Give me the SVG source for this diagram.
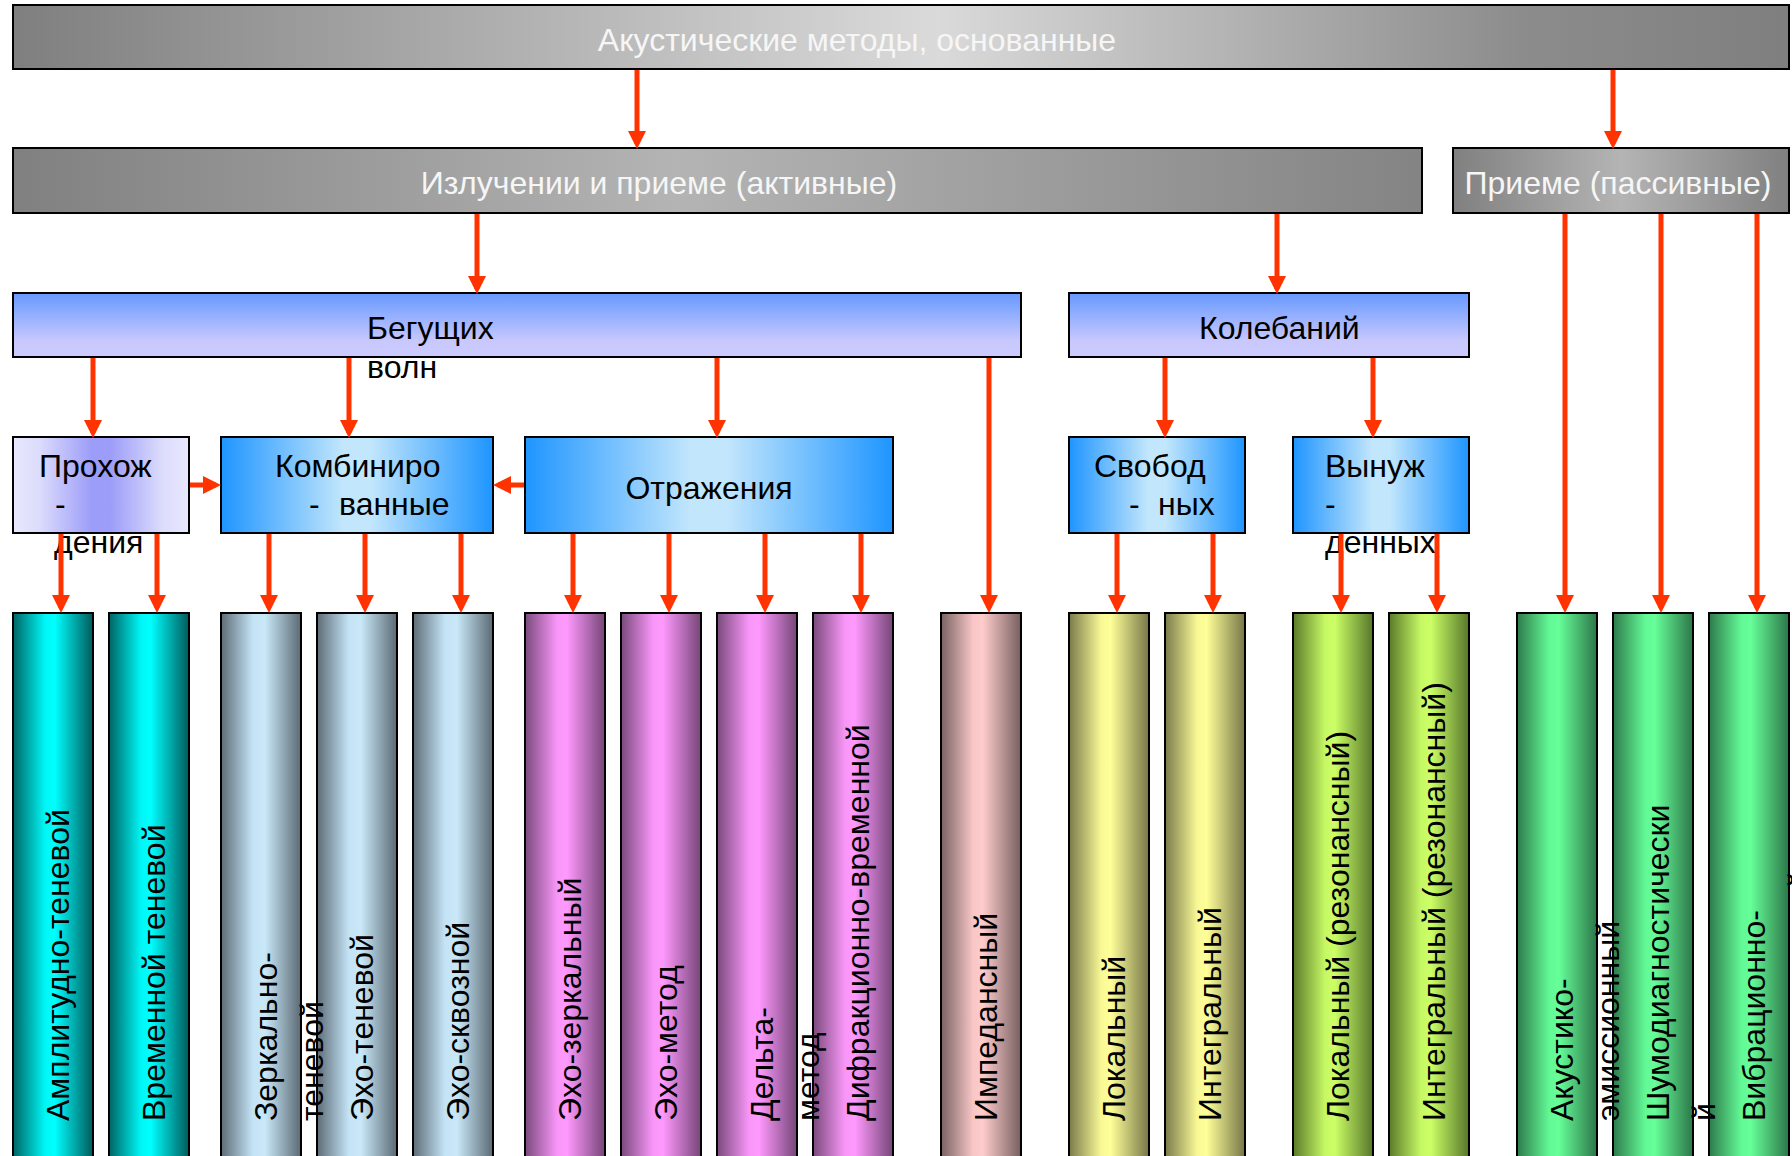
<svg xmlns="http://www.w3.org/2000/svg" width="1792" height="1156" viewBox="0 0 1792 1156">
<style>
text{font-family:"Liberation Sans",Arial,sans-serif;font-size:32px;fill:#000}
.wt{fill:#f6f6f6}
.box{stroke:#000;stroke-width:2}
.col{stroke:#000;stroke-width:2}
.cn line{stroke:#ff3300;stroke-width:5;marker-end:url(#ah)}
</style>
<defs>
<marker id="ah" markerUnits="userSpaceOnUse" markerWidth="18" markerHeight="18" refX="13" refY="9" orient="auto"><path d="M0,0 L18,9 L0,18 z" fill="#ff3300"/></marker>
<linearGradient id="gTop"><stop offset="0" stop-color="#7f7f7f"/><stop offset="0.52" stop-color="#dadada"/><stop offset="0.85" stop-color="#8c8c8c"/><stop offset="1" stop-color="#7f7f7f"/></linearGradient>
<linearGradient id="gIzl"><stop offset="0" stop-color="#808080"/><stop offset="0.47" stop-color="#b4b4b4"/><stop offset="1" stop-color="#848484"/></linearGradient>
<linearGradient id="gPri"><stop offset="0" stop-color="#808080"/><stop offset="0.5" stop-color="#b4b4b4"/><stop offset="1" stop-color="#808080"/></linearGradient>
<linearGradient id="gLav" x1="0" y1="0" x2="0" y2="1"><stop offset="0" stop-color="#6699ff"/><stop offset="0.75" stop-color="#c8c8fd"/><stop offset="1" stop-color="#cccbff"/></linearGradient>
<linearGradient id="gProh"><stop offset="0" stop-color="#e8e8fe"/><stop offset="0.15" stop-color="#dcdcfc"/><stop offset="0.45" stop-color="#9c9cf9"/><stop offset="0.55" stop-color="#9c9cf9"/><stop offset="0.85" stop-color="#dcdcfc"/><stop offset="1" stop-color="#e8e8fe"/></linearGradient>
<linearGradient id="gBlue"><stop offset="0" stop-color="#1e95ff"/><stop offset="0.45" stop-color="#c2e6fc"/><stop offset="0.55" stop-color="#c2e6fc"/><stop offset="1" stop-color="#1e95ff"/></linearGradient>
<linearGradient id="cTeal"><stop offset="0" stop-color="#006464"/><stop offset="0.4" stop-color="#00f6f6"/><stop offset="0.52" stop-color="#00ffff"/><stop offset="1" stop-color="#005a5a"/></linearGradient>
<linearGradient id="cGrey"><stop offset="0" stop-color="#5e6c76"/><stop offset="0.4" stop-color="#c4e4f6"/><stop offset="0.55" stop-color="#c8e8f8"/><stop offset="1" stop-color="#5c6a74"/></linearGradient>
<linearGradient id="cMag"><stop offset="0" stop-color="#7a4a7c"/><stop offset="0.4" stop-color="#f896f8"/><stop offset="0.52" stop-color="#ff99ff"/><stop offset="1" stop-color="#764676"/></linearGradient>
<linearGradient id="cPink"><stop offset="0" stop-color="#7a6262"/><stop offset="0.4" stop-color="#f8c6c6"/><stop offset="0.52" stop-color="#ffcccc"/><stop offset="1" stop-color="#766060"/></linearGradient>
<linearGradient id="cYel"><stop offset="0" stop-color="#7a7a4a"/><stop offset="0.4" stop-color="#f8f896"/><stop offset="0.52" stop-color="#ffff99"/><stop offset="1" stop-color="#767648"/></linearGradient>
<linearGradient id="cLime"><stop offset="0" stop-color="#5a7a2a"/><stop offset="0.4" stop-color="#c6f864"/><stop offset="0.52" stop-color="#ccff66"/><stop offset="1" stop-color="#56762a"/></linearGradient>
<linearGradient id="cGrn"><stop offset="0" stop-color="#2e7a4a"/><stop offset="0.4" stop-color="#62f896"/><stop offset="0.52" stop-color="#66ff99"/><stop offset="1" stop-color="#2c7648"/></linearGradient>
</defs>
<rect width="1792" height="1156" fill="#fff"/>

<g id="n-top"><rect class="box" x="13" y="5" width="1776" height="64" fill="url(#gTop)"/><text class="wt" x="857" y="51" text-anchor="middle">Акустические методы, основанные</text></g>
<g id="n-izl"><rect class="box" x="13" y="148" width="1409" height="65" fill="url(#gIzl)"/><text class="wt" x="659" y="193.5" text-anchor="middle">Излучении и приеме (активные)</text></g>
<g id="n-pri"><rect class="box" x="1453" y="148" width="336" height="65" fill="url(#gPri)"/><text class="wt" x="1618" y="193.5" text-anchor="middle">Приеме (пассивные)</text></g>
<g id="n-beg"><rect class="box" x="13" y="293" width="1008" height="64" fill="url(#gLav)"/><text x="367" y="339">Бегущих</text><text x="367" y="378">волн</text></g>
<g id="n-kol"><rect class="box" x="1069" y="293" width="400" height="64" fill="url(#gLav)"/><text x="1199" y="339">Колебаний</text></g>
<g id="n-proh"><rect class="box" x="13" y="437" width="176" height="96" fill="url(#gProh)"/><text x="39" y="476.5">Прохож</text><text x="55" y="514.5">-</text><text x="54" y="552.5">дения</text></g>
<g id="n-komb"><rect class="box" x="221" y="437" width="272" height="96" fill="url(#gBlue)"/><text x="275" y="476.5">Комбиниро</text><text x="309" y="514.5">-</text><text x="339" y="514.5">ванные</text></g>
<g id="n-otr"><rect class="box" x="525" y="437" width="368" height="96" fill="url(#gBlue)"/><text x="709" y="499" text-anchor="middle">Отражения</text></g>
<g id="n-svob"><rect class="box" x="1069" y="437" width="176" height="96" fill="url(#gBlue)"/><text x="1094" y="476.5">Свобод</text><text x="1129" y="514.5">-</text><text x="1158" y="514.5">ных</text></g>
<g id="n-vyn"><rect class="box" x="1293" y="437" width="176" height="96" fill="url(#gBlue)"/><text x="1325" y="476.5">Вынуж</text><text x="1325" y="514.5">-</text><text x="1325" y="552.5">денных</text></g>

<g id="n-c17"><rect class="col" x="1709" y="613" width="80" height="560" fill="url(#cGrn)"/><text transform="translate(1765,1121) rotate(-90)">Вибрационно-</text><text transform="translate(1811,1121) rotate(-90)">диагностический</text></g>
<g id="n-c16"><rect class="col" x="1613" y="613" width="80" height="560" fill="url(#cGrn)"/><text transform="translate(1669,1121) rotate(-90)">Шумодиагностически</text><text transform="translate(1715,1121) rotate(-90)">й</text></g>
<g id="n-c15"><rect class="col" x="1517" y="613" width="80" height="560" fill="url(#cGrn)"/><text transform="translate(1573,1121) rotate(-90)">Акустико-</text><text transform="translate(1619,1121) rotate(-90)">эмиссионный</text></g>
<g id="n-c14"><rect class="col" x="1389" y="613" width="80" height="560" fill="url(#cLime)"/><text transform="translate(1445,1121) rotate(-90)">Интегральный (резонансный)</text></g>
<g id="n-c13"><rect class="col" x="1293" y="613" width="80" height="560" fill="url(#cLime)"/><text transform="translate(1349,1121) rotate(-90)">Локальный (резонансный)</text></g>
<g id="n-c12"><rect class="col" x="1165" y="613" width="80" height="560" fill="url(#cYel)"/><text transform="translate(1221,1121) rotate(-90)">Интегральный</text></g>
<g id="n-c11"><rect class="col" x="1069" y="613" width="80" height="560" fill="url(#cYel)"/><text transform="translate(1125,1121) rotate(-90)">Локальный</text></g>
<g id="n-c10"><rect class="col" x="941" y="613" width="80" height="560" fill="url(#cPink)"/><text transform="translate(997,1121) rotate(-90)">Импедансный</text></g>
<g id="n-c9"><rect class="col" x="813" y="613" width="80" height="560" fill="url(#cMag)"/><text transform="translate(869,1121) rotate(-90)">Дифракционно-временной</text></g>
<g id="n-c8"><rect class="col" x="717" y="613" width="80" height="560" fill="url(#cMag)"/><text transform="translate(773,1121) rotate(-90)">Дельта-</text><text transform="translate(819,1121) rotate(-90)">метод</text></g>
<g id="n-c7"><rect class="col" x="621" y="613" width="80" height="560" fill="url(#cMag)"/><text transform="translate(677,1121) rotate(-90)">Эхо-метод</text></g>
<g id="n-c6"><rect class="col" x="525" y="613" width="80" height="560" fill="url(#cMag)"/><text transform="translate(581,1121) rotate(-90)">Эхо-зеркальный</text></g>
<g id="n-c5"><rect class="col" x="413" y="613" width="80" height="560" fill="url(#cGrey)"/><text transform="translate(469,1121) rotate(-90)">Эхо-сквозной</text></g>
<g id="n-c4"><rect class="col" x="317" y="613" width="80" height="560" fill="url(#cGrey)"/><text transform="translate(373,1121) rotate(-90)">Эхо-теневой</text></g>
<g id="n-c3"><rect class="col" x="221" y="613" width="80" height="560" fill="url(#cGrey)"/><text transform="translate(277,1121) rotate(-90)">Зеркально-</text><text transform="translate(323,1121) rotate(-90)">теневой</text></g>
<g id="n-c2"><rect class="col" x="109" y="613" width="80" height="560" fill="url(#cTeal)"/><text transform="translate(165,1121) rotate(-90)">Временной теневой</text></g>
<g id="n-c1"><rect class="col" x="13" y="613" width="80" height="560" fill="url(#cTeal)"/><text transform="translate(69,1121) rotate(-90)">Амплитудно-теневой</text></g>

<g id="connectors" class="cn">
<line x1="637" y1="70" x2="637" y2="144"/>
<line x1="1613" y1="70" x2="1613" y2="144"/>
<line x1="477" y1="214" x2="477" y2="289"/>
<line x1="1277" y1="214" x2="1277" y2="289"/>
<line x1="1565" y1="214" x2="1565" y2="608"/>
<line x1="1661" y1="214" x2="1661" y2="608"/>
<line x1="1757" y1="214" x2="1757" y2="608"/>
<line x1="93" y1="358" x2="93" y2="433"/>
<line x1="349" y1="358" x2="349" y2="433"/>
<line x1="717" y1="358" x2="717" y2="433"/>
<line x1="989" y1="358" x2="989" y2="608"/>
<line x1="1165" y1="358" x2="1165" y2="433"/>
<line x1="1373" y1="358" x2="1373" y2="433"/>
<line x1="190" y1="485" x2="216" y2="485"/>
<line x1="524" y1="485" x2="498" y2="485"/>
<line x1="61" y1="534" x2="61" y2="608"/>
<line x1="157" y1="534" x2="157" y2="608"/>
<line x1="269" y1="534" x2="269" y2="608"/>
<line x1="365" y1="534" x2="365" y2="608"/>
<line x1="461" y1="534" x2="461" y2="608"/>
<line x1="573" y1="534" x2="573" y2="608"/>
<line x1="669" y1="534" x2="669" y2="608"/>
<line x1="765" y1="534" x2="765" y2="608"/>
<line x1="861" y1="534" x2="861" y2="608"/>
<line x1="1117" y1="534" x2="1117" y2="608"/>
<line x1="1213" y1="534" x2="1213" y2="608"/>
<line x1="1341" y1="534" x2="1341" y2="608"/>
<line x1="1437" y1="534" x2="1437" y2="608"/>
</g>
</svg>
